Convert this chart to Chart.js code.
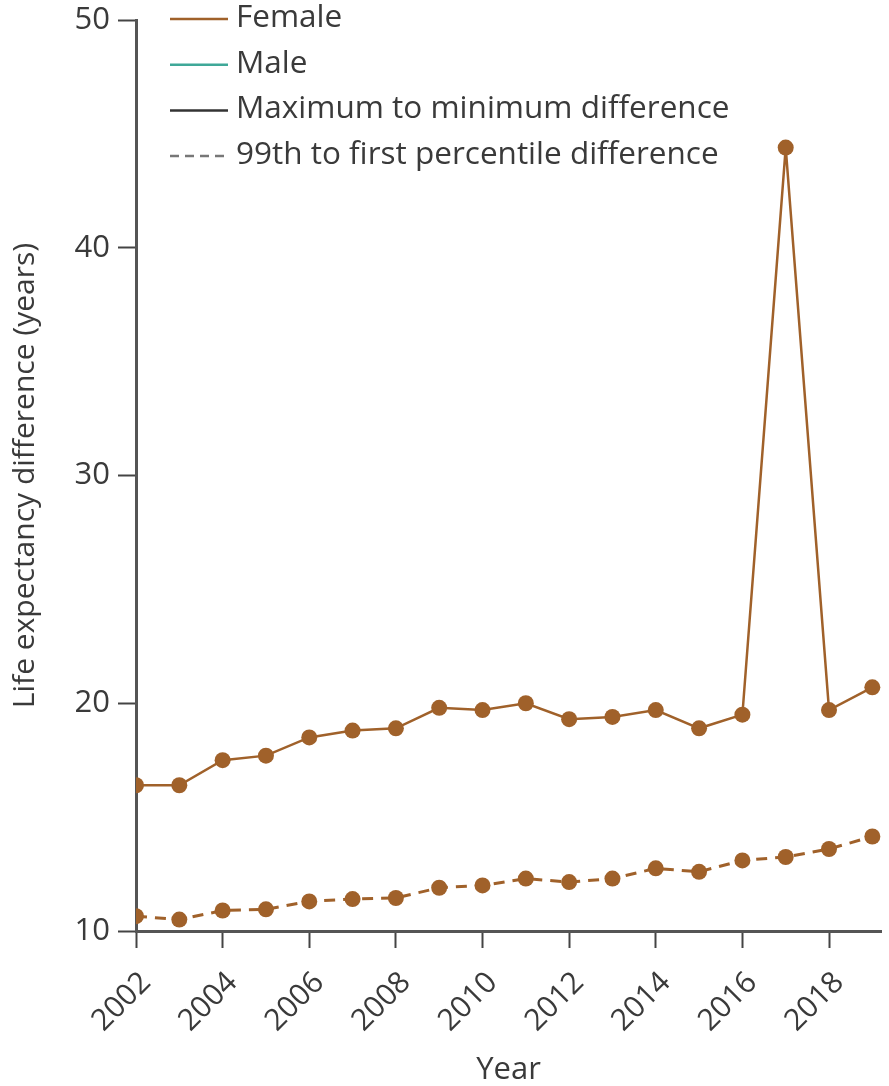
<!DOCTYPE html>
<html>
<head>
<meta charset="utf-8">
<script src="https://cdn.jsdelivr.net/npm/chart.js@4/dist/chart.umd.min.js"></script>
<style>
  html, body { margin: 0; padding: 0; background: #ffffff; }
  #wrap { position: relative; width: 889px; height: 1086px; }
</style>
</head>
<body>
<div id="wrap"><canvas id="c" width="889" height="1086"></canvas></div>
<script>
// ---- data ----
const years = [2002, 2003, 2004, 2005, 2006, 2007, 2008, 2009, 2010, 2011, 2012, 2013, 2014, 2015, 2016, 2017, 2018, 2019];
const femaleMaxMin = [16.4, 16.4, 17.5, 17.7, 18.5, 18.8, 18.9, 19.8, 19.7, 20.0, 19.3, 19.4, 19.7, 18.9, 19.5, 44.4, 19.7, 20.7];
const femaleP99P1 = [10.65, 10.5, 10.9, 10.95, 11.3, 11.4, 11.45, 11.9, 12.0, 12.3, 12.15, 12.3, 12.75, 12.6, 13.1, 13.25, 13.6, 14.15];
const xTickYears = [2002, 2004, 2006, 2008, 2010, 2012, 2014, 2016, 2018];
const yTickValues = [10, 20, 30, 40, 50];
const legendLabels = ['Female', 'Male', 'Maximum to minimum difference', '99th to first percentile difference'];
const xTitle = 'Year';
const yTitle = 'Life expectancy difference (years)';

// ---- styles ----
const BROWN = '#a0612a';
const TEAL = '#3fa898';
const DARK = '#333333';
const GREY_DASH = '#777777';
const TEXT = '#3a3a3a';
const AXIS = '#555555';
const FONT = "'Open Sans', 'DejaVu Sans', sans-serif";

const legendStyles = [
  { color: BROWN, dash: [] },
  { color: TEAL, dash: [] },
  { color: DARK, dash: [] },
  { color: GREY_DASH, dash: [9, 6] }
];

const toPoints = (arr) => arr.map((v, i) => ({ x: years[i], y: v }));

const customLegend = {
  id: 'customLegend',
  afterDraw(chart) {
    const ctx = chart.ctx;
    const lineX0 = 170, lineX1 = 228, textX = 236;
    const y0 = 18, step = 45.7;
    ctx.save();
    ctx.font = '31.5px ' + FONT;
    ctx.textBaseline = 'middle';
    ctx.textAlign = 'left';
    legendLabels.forEach((label, i) => {
      const y = y0 + i * step;
      const st = legendStyles[i];
      ctx.beginPath();
      ctx.setLineDash(st.dash);
      ctx.strokeStyle = st.color;
      ctx.lineWidth = 2.5;
      ctx.moveTo(lineX0, y + 1);
      ctx.lineTo(lineX1, y + 1);
      ctx.stroke();
      ctx.setLineDash([]);
      ctx.fillStyle = TEXT;
      ctx.fillText(label, textX, y);
    });
    ctx.restore();
  }
};

new Chart(document.getElementById('c'), {
  type: 'line',
  data: {
    datasets: [
      {
        label: 'Female maximum to minimum difference',
        data: toPoints(femaleMaxMin),
        borderColor: BROWN,
        backgroundColor: BROWN,
        borderWidth: 2.5,
        pointRadius: 8,
        pointBorderWidth: 0,
        pointBackgroundColor: BROWN,
        tension: 0
      },
      {
        label: 'Female 99th to first percentile difference',
        data: toPoints(femaleP99P1),
        borderColor: BROWN,
        backgroundColor: BROWN,
        borderWidth: 3,
        borderDash: [11, 8],
        pointRadius: 8,
        pointBorderWidth: 0,
        pointBackgroundColor: BROWN,
        tension: 0
      }
    ]
  },
  options: {
    responsive: false,
    animation: false,
    events: [],
    layout: { padding: { left: 0, top: 20, right: 4, bottom: 0 } },
    plugins: {
      legend: { display: false },
      tooltip: { enabled: false }
    },
    scales: {
      x: {
        type: 'linear',
        min: 2002,
        max: 2019.2,
        afterBuildTicks: (scale) => { scale.ticks = xTickYears.map(v => ({ value: v })); },
        afterFit: (scale) => { scale.height = 155; },
        border: { display: true, color: AXIS, width: 3 },
        grid: { drawOnChartArea: false, drawTicks: true, tickLength: 17, tickColor: '#444', tickWidth: 2, color: AXIS },
        ticks: {
          minRotation: 45,
          maxRotation: 45,
          autoSkip: false,
          padding: 17,
          labelOffset: 10,
          color: TEXT,
          font: { family: FONT, size: 30 },
          callback: (v) => String(v)
        },
        title: {
          display: true,
          text: xTitle,
          color: TEXT,
          font: { family: FONT, size: 31, lineHeight: 1 },
          padding: { top: 0, bottom: 0 }
        }
      },
      y: {
        type: 'linear',
        min: 10,
        max: 50,
        afterBuildTicks: (scale) => { scale.ticks = yTickValues.map(v => ({ value: v })); },
        afterFit: (scale) => { scale.width = 136; scale.paddingTop = 0; scale.paddingBottom = 0; },
        border: { display: true, color: AXIS, width: 3 },
        grid: { drawOnChartArea: false, drawTicks: true, tickLength: 18, tickColor: '#444', tickWidth: 2, color: AXIS },
        ticks: {
          padding: 8,
          color: TEXT,
          font: { family: FONT, size: 31 }
        },
        title: {
          display: true,
          text: yTitle,
          color: TEXT,
          font: { family: FONT, size: 30, lineHeight: 1 },
          padding: { top: 10, bottom: 0 }
        }
      }
    }
  },
  plugins: [customLegend]
});
</script>
</body>
</html>
